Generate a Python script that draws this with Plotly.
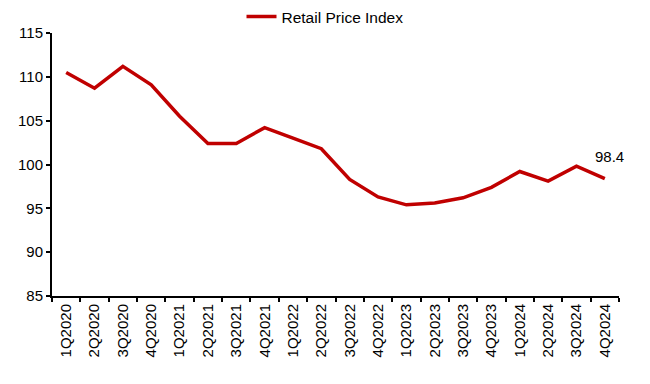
import plotly.graph_objects as go

quarters = ["1Q2020", "2Q2020", "3Q2020", "4Q2020",
            "1Q2021", "2Q2021", "3Q2021", "4Q2021",
            "1Q2022", "2Q2022", "3Q2022", "4Q2022",
            "1Q2023", "2Q2023", "3Q2023", "4Q2023",
            "1Q2024", "2Q2024", "3Q2024", "4Q2024"]
rpi = [110.5, 108.7, 111.2, 109.1,
       105.5, 102.4, 102.4, 104.2,
       103.0, 101.8, 98.3, 96.3,
       95.4, 95.6, 96.2, 97.4,
       99.2, 98.1, 99.8, 98.4]
series_name = "Retail Price Index"
last_label = "98.4"

RED = "#C00000"
FONT = "Liberation Sans, Arial, sans-serif"

fig = go.Figure()
fig.add_trace(go.Scatter(
    x=quarters, y=rpi, mode="lines", name=series_name,
    line=dict(color=RED, width=3.5),
))
fig.add_annotation(
    x=quarters[-1], y=rpi[-1], text=last_label, showarrow=False,
    xshift=5, yshift=22, font=dict(family=FONT, size=15, color="black"),
)
fig.update_layout(
    width=650, height=384,
    margin=dict(l=52, r=31, t=33, b=88, autoexpand=False),
    paper_bgcolor="white", plot_bgcolor="white",
    font=dict(family=FONT, size=15, color="black"),
    showlegend=True,
    legend=dict(orientation="h", xref="container", x=0.5, xanchor="center",
                yref="container", y=1.0, yanchor="top",
                font=dict(family=FONT, size=15.5, color="black"),
                itemwidth=30, bgcolor="rgba(0,0,0,0)"),
)
fig.update_xaxes(
    type="category", range=[-0.5, len(quarters) - 0.5],
    showline=True, linecolor="black", linewidth=2,
    ticks="outside", tickson="boundaries", ticklen=4, tickwidth=1.5, tickcolor="black",
    tickangle=-90, showgrid=False, zeroline=False, automargin=False,
    tickfont=dict(family=FONT, size=15),
)
fig.update_yaxes(
    range=[85, 115], dtick=5, tick0=85,
    showline=True, linecolor="black", linewidth=2,
    ticks="outside", ticklen=4, tickwidth=1.5, tickcolor="black",
    showgrid=False, zeroline=False, automargin=False,
    tickfont=dict(family=FONT, size=15),
)
fig.write_html("out.html")
